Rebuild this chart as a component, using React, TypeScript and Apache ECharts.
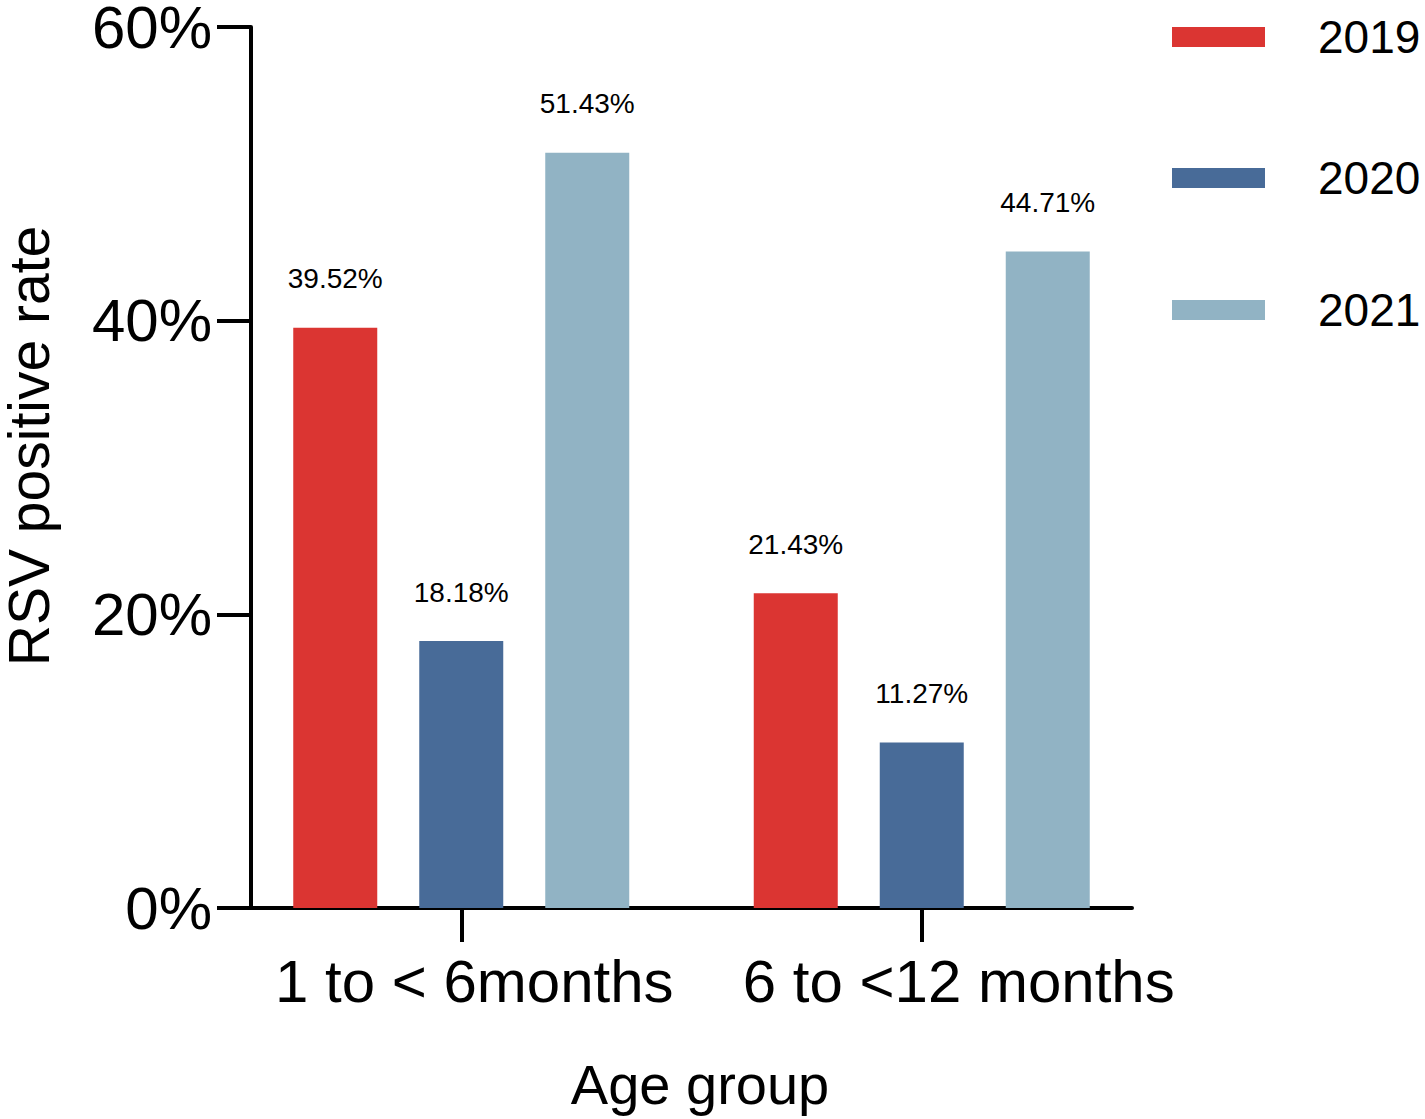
import React, { useEffect, useRef } from "react";
import * as echarts from "echarts";

const categories = ["1 to < 6months", "6 to <12 months"];
const seriesNames = ["2019", "2020", "2021"];
const values2019 = [39.52, 21.43];
const values2020 = [18.18, 11.27];
const values2021 = [51.43, 44.71];
const yTicks = [0, 20, 40, 60];

const colors = ["#DB3532", "#486B98", "#91B3C4"];
const FONT = "'Liberation Sans', Arial, Helvetica, sans-serif";

export default function App() {
  const ref = useRef<HTMLDivElement>(null);
  useEffect(() => {
    if (!ref.current) return;
    const chart = echarts.init(ref.current, undefined, { renderer: "svg" });
    const allValues = [values2019, values2020, values2021];
    const labelPads = [26, 74];
    const legendTops = [9, 150, 282];
    const option: any = {
      animation: false,
      backgroundColor: "#ffffff",
      textStyle: { fontFamily: FONT },
      grid: [
        { left: 231, right: 273, top: 27, bottom: 211, outerBoundsMode: "none", containLabel: false },
        { left: 251, right: 293, top: 27, bottom: 211, outerBoundsMode: "none", containLabel: false },
      ],
      legend: seriesNames.map((n, i) => ({
        data: [n],
        left: 1167,
        top: legendTops[i],
        orient: "vertical",
        icon: "rect",
        itemWidth: 93,
        itemHeight: 20,
        textStyle: {
          fontSize: 46,
          fontFamily: FONT,
          color: "#000",
          lineHeight: 46,
          padding: [0, 0, 0, 48],
        },
      })),
      xAxis: [
        {
          type: "category",
          gridIndex: 0,
          data: categories.map((c, i) => ({
            value: c,
            textStyle: { padding: [0, 0, 0, labelPads[i]] },
          })),
          axisLine: { show: false },
          axisTick: {
            show: true,
            alignWithLabel: true,
            length: 34,
            lineStyle: { color: "#000", width: 4 },
          },
          axisLabel: {
            fontSize: 60,
            fontFamily: FONT,
            color: "#000",
            margin: 43,
            interval: 0,
          },
          splitLine: { show: false },
          name: "Age group",
          nameLocation: "middle",
          nameGap: 148,
          nameTextStyle: {
            fontSize: 56,
            fontFamily: FONT,
            color: "#000",
            padding: [0, 0, 0, 17],
          },
        },
        {
          type: "value",
          gridIndex: 1,
          min: 0,
          max: 1,
          axisLine: { show: true, lineStyle: { color: "#000", width: 4 } },
          axisTick: { show: false },
          axisLabel: { show: false },
          splitLine: { show: false },
        },
      ],
      yAxis: [
        {
          type: "value",
          gridIndex: 0,
          min: 0,
          max: 60,
          interval: 20,
          show: false,
          splitLine: { show: false },
        },
        {
          type: "value",
          gridIndex: 1,
          min: 0,
          max: 60,
          interval: 20,
          axisLine: { show: true, lineStyle: { color: "#000", width: 4 } },
          axisTick: {
            show: true,
            length: 34,
            lineStyle: { color: "#000", width: 4 },
          },
          axisLabel: {
            fontSize: 60,
            lineHeight: 50,
            fontFamily: FONT,
            color: "#000",
            margin: 39,
            formatter: (v: number) => (yTicks.includes(v) ? `${v}%` : ""),
          },
          splitLine: { show: false },
          name: "RSV positive rate",
          nameLocation: "middle",
          nameRotate: 90,
          nameGap: 196,
          nameTextStyle: {
            fontSize: 57,
            lineHeight: 52,
            fontFamily: FONT,
            color: "#000",
            padding: [0, 0, 0, 43],
          },
        },
      ],
      series: seriesNames.map((n, i) => ({
        name: n,
        type: "bar",
        xAxisIndex: 0,
        yAxisIndex: 0,
        barWidth: 84,
        barGap: "50%",
        data: allValues[i],
        itemStyle: { color: colors[i] },
        label: {
          show: true,
          position: "top",
          distance: 35,
          fontSize: 28,
          fontFamily: FONT,
          color: "#000",
          formatter: (p: any) => `${Number(p.value).toFixed(2)}%`,
        },
      })),
    };
    chart.setOption(option);
    return () => chart.dispose();
  }, []);
  return (
    <div
      ref={ref}
      style={{ position: "fixed", left: 0, top: 0, width: 1425, height: 1119 }}
    />
  );
}
